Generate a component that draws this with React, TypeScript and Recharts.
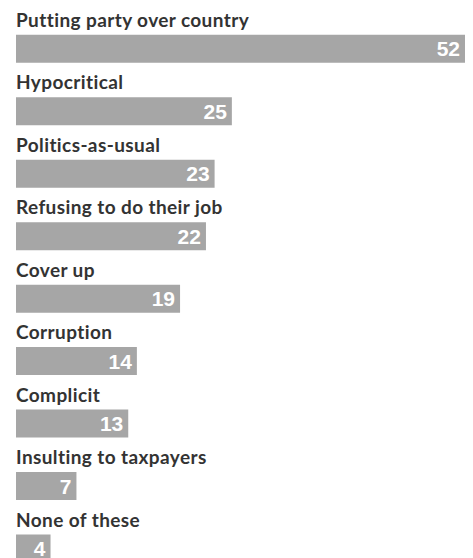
import React from "react";
import { BarChart, Bar, XAxis, YAxis, LabelList } from "recharts";

const categories = [
  "Putting party over country",
  "Hypocritical",
  "Politics-as-usual",
  "Refusing to do their job",
  "Cover up",
  "Corruption",
  "Complicit",
  "Insulting to taxpayers",
  "None of these",
];
const values = [52, 25, 23, 22, 19, 14, 13, 7, 4];

const data = categories.map((name, i) => ({ name, value: values[i] }));

const CategoryLabel = (props: any) => {
  const { x, y, value } = props;
  return (
    <text
      x={x}
      y={y - 8}
      fill="#333333"
      fontFamily="Lato, 'Open Sans', sans-serif"
      fontWeight={700}
      fontSize={19}
      letterSpacing={0.4}
      textAnchor="start"
    >
      {value}
    </text>
  );
};

export default function App() {
  return (
    <div
      style={{
        position: "absolute",
        left: 0,
        top: 0,
        width: 473,
        height: 558,
        overflow: "hidden",
        background: "#ffffff",
      }}
    >
      <BarChart
        width={473}
        height={580}
        data={data}
        layout="vertical"
        margin={{ top: 17.75, right: 8, bottom: 0, left: 16 }}
        barCategoryGap={0}
      >
        <XAxis type="number" domain={[0, 52]} hide />
        <YAxis type="category" dataKey="name" hide />
        <Bar dataKey="value" fill="#a6a6a6" barSize={28} isAnimationActive={false}>
          <LabelList dataKey="name" content={<CategoryLabel />} />
          <LabelList
            dataKey="value"
            position="insideRight"
            offset={5}
            fill="#ffffff"
            fontFamily="'Liberation Sans', Arial, sans-serif"
            fontWeight={700}
            fontSize={21}
          />
        </Bar>
      </BarChart>
    </div>
  );
}
